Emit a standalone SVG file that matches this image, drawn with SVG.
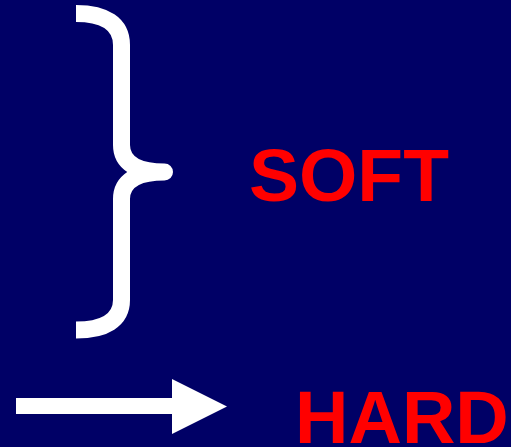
<svg xmlns="http://www.w3.org/2000/svg" width="511" height="447" viewBox="0 0 511 447">
<style>
.lbl{font-family:"Liberation Sans",Arial,sans-serif;font-weight:bold;font-size:75px;fill:#ff0000}
.brace{fill:none;stroke:#ffffff;stroke-width:17;stroke-linejoin:round}
</style>
<rect x="0" y="0" width="511" height="447" fill="#000066"/>
<g id="connectors">
<path class="brace" d="M76,13.5 C105,13.5 121.5,24 121.5,45 V145 C121.5,162 135,172 164.5,172 C135,172 121.5,182 121.5,199 V300 C121.5,320 105,330 76,330"/>
<polygon points="16,398 172,398 172,379 227,406.5 172,434 172,414 16,414" fill="#ffffff"/>
</g>
<g id="soft"><text class="lbl" x="249" y="201">SOFT</text></g>
<g id="hard"><text class="lbl" x="295" y="443" style="font-size:74px">HARD</text></g>
</svg>
